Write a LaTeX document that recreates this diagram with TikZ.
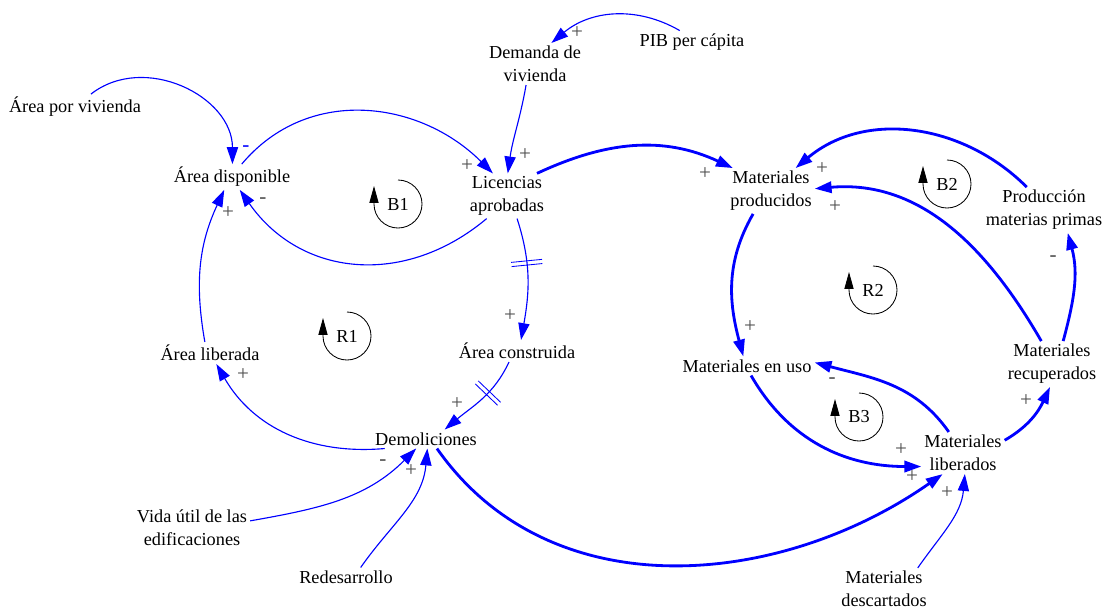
\documentclass[tikz,border=0pt]{standalone}
\usepackage{fontspec}
\setmainfont{Liberation Serif}
\usetikzlibrary{arrows.meta,decorations.markings}

\tikzset{
  var/.style={inner sep=2pt, align=center},
  lnk/.style={draw=blue, line width=0.8pt, -{Triangle[length=12pt,width=8pt]}},
  lnkthick/.style={lnk, line width=2pt},
  sgn/.style={text=black!70, font=\fontsize{15}{16}\selectfont, inner sep=0pt, text height=.45em, text depth=0pt},
  delaymark/.style={postaction={decorate, decoration={markings,
     mark=at position #1 with {\draw[blue, line width=0.6pt, -] (-1.5pt,-11pt) -- (-1.5pt,11pt) (1.5pt,-11pt) -- (1.5pt,11pt);}}}},
  looparr/.style={draw=black, line width=0.6pt, -{Triangle[length=12pt,width=6.5pt]}},
}

\begin{document}
\begin{tikzpicture}[x=0.025cm, y=0.025cm, font=\fontsize{13}{16.4}\selectfont]
  \useasboundingbox (0,0) rectangle (1102,-610);

  % variables
  \node[var] (areaviv) at (75,-107) {Área por vivienda};
  \node[var] (areadisp) at (232,-177) {Área disponible};
  \node[var] (licencias) at (507,-196) {Licencias\\aprobadas};
  \node[var] (demanda) at (535,-64) {Demanda de\\vivienda};
  \node[var] (pib) at (692,-42) {PIB per cápita};
  \node[var] (matprod) at (771,-191) {Materiales\\producidos};
  \node[var] (prodmp) at (1044,-210) {Producción\\materias primas};
  \node[var] (arealib) at (210,-353) {Área liberada};
  \node[var] (areacons) at (517,-351) {Área construida};
  \node[var] (demol) at (426,-439) {Demoliciones};
  \node[var] (matuso) at (747,-366) {Materiales en uso};
  \node[var] (matrec) at (1052,-364) {Materiales\\recuperados};
  \node[var] (matlib) at (963,-453) {Materiales\\liberados};
  \node[var] (vida) at (192,-528) {Vida útil de las\\edificaciones};
  \node[var] (redes) at (346,-577) {Redesarrollo};
  \node[var] (matdesc) at (884,-589) {Materiales\\descartados};

  % loops
  \node (b1) at (398,-204) {B1};
  \node (r1) at (347,-336) {R1};
  \node (b2) at (947,-184) {B2};
  \node (r2) at (873,-290) {R2};
  \node (b3) at (859,-417) {B3};
  \draw[looparr] (b1) ++(0,24) arc[start angle=90, end angle=-180, radius=0.6cm] -- ++(0,18);
  \draw[looparr] (r1) ++(0,24) arc[start angle=90, end angle=-180, radius=0.6cm] -- ++(0,18);
  \draw[looparr] (b2) ++(0,24) arc[start angle=90, end angle=-180, radius=0.6cm] -- ++(0,18);
  \draw[looparr] (r2) ++(0,24) arc[start angle=90, end angle=-180, radius=0.6cm] -- ++(0,18);
  \draw[looparr] (b3) ++(0,24) arc[start angle=90, end angle=-180, radius=0.6cm] -- ++(0,18);

  % links, left part
  \draw[lnk] (areaviv.39) to[out=38, in=90, looseness=1.1] (areadisp.88);
  \draw[lnk] (areadisp.53) to[out=50, in=135, looseness=1.05] (licencias.122);
  \draw[lnk] (licencias.228) to[out=-140, in=-55, looseness=1.1] (areadisp.-59);
  \draw[lnk] (demanda.-113) to[out=-100, in=82] (licencias.88);
  \draw[lnk] (pib.137) to[out=150, in=40] (demanda.52);
  \draw[lnk, delaymark=0.37] (licencias.-66) to[out=-72, in=80] (areacons.70);
  \draw[lnk, delaymark=0.4] (areacons.-126) to[out=-115, in=40] (demol.27);
  \draw[lnk] (demol.193) to[out=185, in=-60] (arealib.-60);
  \draw[lnk] (arealib.115) to[out=100, in=-115] (areadisp.239);
  \draw[lnk] (vida.7) to[out=10, in=225] (demol.224);
  \draw[lnk] (redes.33) to[out=55, in=-95] (demol.-82);
  \draw[lnk] (matdesc.32) to[out=55, in=-95] (matlib.-85);

  % links, materials
  \draw[lnkthick] (licencias.37) to[out=25, in=155] (matprod.149);
  \draw[lnkthick] (demol.-41) to[out=-55, in=215] (matlib.226);
  \draw[lnkthick] (matprod.-128) to[out=-120, in=105] (matuso.111);
  \draw[lnkthick] (matuso.-67) to[out=-60, in=180] (matlib.198);
  \draw[lnkthick] (matlib.124) to[out=125, in=-15] (matuso.3);
  \draw[lnkthick] (matlib.17) to[out=30, in=-115] (matrec.-95);
  \draw[lnkthick] (matrec.115) to[out=120, in=5] (matprod.3);
  \draw[lnkthick] (matrec.64) to[out=75, in=-75] (prodmp.-44);
  \draw[lnkthick] (prodmp.127) to[out=135, in=40] (matprod.43);

  % polarities
  \node[sgn, text=blue] (p1) at (246,-148) {-};
  \node[sgn] (p2) at (467,-168) {+};
  \node[sgn] (p3) at (263,-200) {-};
  \node[sgn] (p4) at (525,-157) {+};
  \node[sgn] (p5) at (577,-35) {+};
  \node[sgn] (p6) at (705,-176) {+};
  \node[sgn] (p7) at (510,-318) {+};
  \node[sgn] (p8) at (457,-406) {+};
  \node[sgn] (p9) at (243,-377) {+};
  \node[sgn] (p10) at (228,-215) {+};
  \node[sgn] (p11) at (383,-462) {-};
  \node[sgn] (p12) at (411,-473) {+};
  \node[sgn] (p13) at (912,-479) {+};
  \node[sgn] (p14) at (947,-495) {+};
  \node[sgn] (p15) at (750,-329) {+};
  \node[sgn] (p16) at (901,-452) {+};
  \node[sgn] (p17) at (832,-380) {-};
  \node[sgn] (p18) at (1026,-403) {+};
  \node[sgn] (p19) at (835,-209) {+};
  \node[sgn] (p20) at (1053,-258) {-};
  \node[sgn] (p21) at (822,-171) {+};
\end{tikzpicture}
\end{document}
